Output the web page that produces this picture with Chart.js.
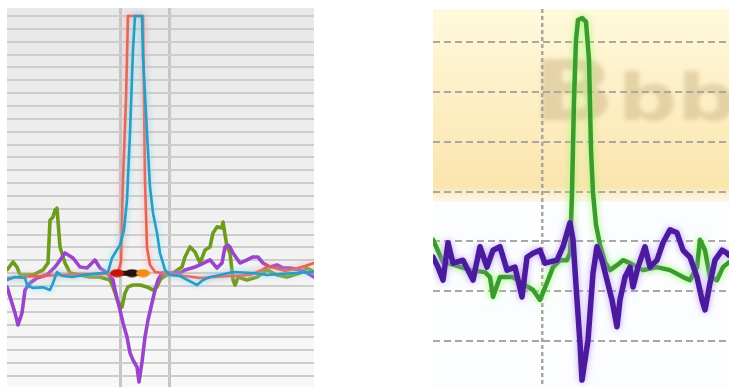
<!DOCTYPE html>
<html>
<head>
<meta charset="utf-8">
<script src="https://cdn.jsdelivr.net/npm/chart.js@4"></script>
<style>
  html, body { margin: 0; padding: 0; background: #ffffff; overflow: hidden; width: 729px; height: 387px; }
  canvas { position: absolute; }
  #leftPanel { left: 7px; top: 8px; }
  #rightPanel { left: 433px; top: 9px; }
</style>
</head>
<body>
<canvas id="leftPanel" width="307" height="379"></canvas>
<canvas id="rightPanel" width="296" height="378"></canvas>
<script>
// ---- Left panel: four traces around an event (time in samples, amplitude in grid units) ----
const redTime   = [0, 13, 33, 53, 73, 93, 105, 111, 114, 116, 119, 121, 136, 138, 140, 143, 148, 163, 178, 193, 208, 223, 243, 255, 261, 268, 278, 288, 298, 307];
const redValue  = [-0.37, -0.3, -0.22, -0.14, -0.06, -0.06, -0.06, 0.09, 0.87, 7.2, 13.5, 20, 20, 7.2, 2.0, 0.64, 0.09, -0.06, -0.22, -0.37, -0.3, -0.22, -0.14, 0.25, 0.56, 0.4, 0.17, 0.33, 0.56, 0.79];

const blueTime  = [0, 8, 18, 20, 26, 36, 43, 46, 50, 55, 65, 80, 95, 101, 105, 108, 113, 117, 120, 123, 126, 128, 135, 136, 140, 143, 146, 150, 153, 158, 163, 173, 186, 190, 196, 203, 213, 226, 246, 260, 273, 288, 307];
const blueValue = [-0.53, -0.3, -0.37, -0.92, -1.15, -1.1, -1.31, -0.76, 0.09, -0.2, -0.3, -0.1, 0.02, 0.09, 1.18, 1.57, 2.19, 3.36, 5.7, 10.9, 17.4, 20, 20, 16.8, 10.9, 6.7, 4.68, 3.13, 1.57, 0.25, -0.14, -0.22, -0.76, -0.92, -0.53, -0.3, -0.14, 0.09, 0.02, -0.14, -0.06, 0.02, 0.09];

const greenTime  = [0, 6, 10, 13, 26, 36, 41, 43, 46, 48, 50, 53, 58, 63, 73, 83, 93, 103, 106, 108, 111, 115, 118, 121, 126, 133, 140, 146, 150, 153, 156, 160, 166, 175, 178, 183, 188, 193, 198, 203, 206, 210, 215, 216, 220, 223, 226, 228, 231, 240, 250, 260, 270, 280, 293, 300, 307];
const greenValue = [0.25, 0.87, 0.48, -0.14, -0.14, 0.25, 0.79, 4.12, 4.36, 4.9, 5.05, 2.04, 0.79, 0.02, -0.14, -0.3, -0.3, -0.53, -1.07, -1.54, -2.24, -2.63, -1.54, -1.07, -0.92, -0.92, -1.07, -1.31, -1.07, -0.53, -0.3, -0.14, 0.02, 0.48, 1.26, 2.04, 1.65, 0.79, 1.8, 2.04, 3.13, 3.6, 3.52, 3.98, 2.04, 1.57, -0.53, -0.92, -0.3, -0.53, -0.3, 0.25, -0.14, -0.3, 0.02, 0.4, 0.09];

const purpleTime  = [0, 1, 8, 11, 15, 18, 23, 30, 40, 48, 51, 58, 66, 73, 80, 88, 93, 100, 106, 108, 113, 116, 120, 123, 126, 130, 132, 135, 138, 141, 145, 148, 151, 155, 173, 178, 188, 193, 203, 210, 215, 218, 221, 223, 226, 233, 240, 246, 251, 256, 263, 270, 276, 283, 293, 300, 307];
const purpleValue = [-1.07, -1.31, -3.09, -4.03, -3.09, -1.31, -0.76, -0.37, -0.14, 0.48, 0.79, 1.57, 1.18, 0.48, 0.4, 1.03, 0.4, 0.02, -0.53, -1.31, -2.86, -3.87, -4.96, -6.2, -6.75, -7.3, -8.46, -6.9, -4.96, -3.64, -2.32, -1.31, -0.53, 0.02, 0.02, 0.25, 0.48, 0.64, 1.03, 0.4, 0.79, 2.04, 2.19, 2.04, 1.57, 0.79, 1.03, 1.26, 1.26, 0.79, 0.48, 0.64, 0.4, 0.4, 0.25, 0.02, -0.3];

// event markers on the baseline
const markerTime  = [110, 125, 136];
const markerValue = [0, 0, 0];
const markerColors = ['#c4160e', '#24110a', '#f08d12'];

// cursor positions and grid levels
const leftCursors = [113, 162];
const leftGridLevels = [-8, -7, -6, -5, -4, -3, -2, -1, 0, 1, 2, 3, 4, 5, 6, 7, 8, 9, 10, 11, 12, 13, 14, 15, 16, 17, 18, 19, 20];

// ---- Right panel: two traces ----
const rPurpleTime  = [0, 5, 10, 15, 20, 30, 40, 47, 54, 60, 67, 74, 82, 89, 94, 100, 107, 112, 124, 130, 137, 140, 144, 147, 149, 155, 160, 164, 169, 174, 179, 184, 187, 192, 197, 200, 205, 212, 217, 224, 230, 237, 244, 250, 257, 264, 269, 272, 277, 282, 289, 294, 296];
const rPurpleValue = [0.68, 0.48, 0.22, 0.97, 0.56, 0.62, 0.22, 0.89, 0.48, 0.82, 0.89, 0.42, 0.48, -0.12, 0.68, 0.76, 0.82, 0.56, 0.62, 0.89, 1.37, 1.03, -0.18, -1.05, -1.79, -0.99, 0.36, 0.89, 0.62, 0.22, -0.18, -0.72, -0.18, 0.28, 0.48, 0.08, 0.48, 0.89, 0.48, 0.62, 0.97, 1.23, 1.17, 0.82, 0.68, 0.28, -0.18, -0.38, 0.16, 0.62, 0.82, 0.76, 0.72];

const rGreenTime  = [0, 10, 22, 37, 52, 57, 60, 67, 80, 92, 100, 107, 115, 120, 127, 134, 137, 139, 141, 143, 145, 149, 153, 156, 158, 160, 163, 167, 172, 177, 184, 190, 197, 210, 224, 237, 250, 257, 264, 267, 272, 277, 284, 290, 296];
const rGreenValue = [1.03, 0.58, 0.52, 0.42, 0.38, 0.28, -0.12, 0.28, 0.28, 0.12, 0.02, -0.18, 0.22, 0.48, 0.62, 0.62, 0.76, 1.97, 3.84, 5.05, 5.45, 5.49, 5.41, 4.65, 2.84, 1.97, 1.33, 0.93, 0.58, 0.42, 0.52, 0.62, 0.56, 0.42, 0.48, 0.42, 0.28, 0.22, 0.48, 1.03, 0.82, 0.28, 0.22, 0.48, 0.58];

const rightCursors = [109];
const rightGridLevels = [-1, 0, 1, 2, 3, 4, 5];
const watermarkText = ['B', 'bb'];

// ---- helpers ----
const toPoints = (xs, ys) => xs.map((x, i) => ({ x: x, y: ys[i] }));

function ellipseMarker(color) {
  const c = document.createElement('canvas');
  c.width = 15; c.height = 9;
  const g = c.getContext('2d');
  g.fillStyle = color;
  g.beginPath();
  g.ellipse(7.5, 4.5, 7, 4, 0, 0, Math.PI * 2);
  g.fill();
  return c;
}

// soft halo behind selected traces
const glowPlugin = {
  id: 'glow',
  beforeDatasetDraw(chart, args) {
    const ds = chart.data.datasets[args.index];
    if (ds.glowColor) {
      chart.ctx.save();
      chart.ctx.shadowColor = ds.glowColor;
      chart.ctx.shadowBlur = ds.glowBlur || 6;
    }
  },
  afterDatasetDraw(chart, args) {
    const ds = chart.data.datasets[args.index];
    if (ds.glowColor) chart.ctx.restore();
  }
};

const leftBackground = {
  id: 'leftBackground',
  beforeDraw(chart) {
    const { ctx, chartArea: a } = chart;
    const g = ctx.createLinearGradient(0, a.top, 0, a.bottom);
    g.addColorStop(0, '#e8e8e8');
    g.addColorStop(1, '#f8f8f8');
    ctx.save();
    ctx.fillStyle = g;
    ctx.fillRect(a.left, a.top, a.right - a.left, a.bottom - a.top);
    ctx.restore();
  }
};

const rightBackground = {
  id: 'rightBackground',
  beforeDraw(chart) {
    const { ctx, chartArea: a, scales } = chart;
    const band = scales.y.getPixelForValue(1.8);
    ctx.save();
    ctx.fillStyle = '#fbfdfe';
    ctx.fillRect(a.left, a.top, a.right - a.left, a.bottom - a.top);
    const g = ctx.createLinearGradient(0, a.top, 0, band);
    g.addColorStop(0, '#fff9dd');
    g.addColorStop(0.92, '#fbe5ad');
    g.addColorStop(1, 'rgba(251,240,210,0.6)');
    ctx.fillStyle = g;
    ctx.fillRect(a.left, a.top, a.right - a.left, band - a.top);
    // faded watermark lettering
    ctx.filter = 'blur(2px)';
    ctx.fillStyle = 'rgba(190,160,110,0.38)';
    ctx.textBaseline = 'alphabetic';
    ctx.save();
    ctx.translate(a.left + 99, a.top + 111);
    ctx.scale(1.3, 1);
    ctx.font = 'bold 84px "DejaVu Sans"';
    ctx.fillText(watermarkText[0], 0, 0);
    ctx.font = 'bold 64px "DejaVu Sans"';
    ctx.fillText(watermarkText[1], 66, 0);
    ctx.restore();
    ctx.restore();
  }
};

function baseScales(xMax, yMin, yMax, cursors, levels, xGrid, yGrid, dash) {
  return {
    x: {
      type: 'linear', min: 0, max: xMax,
      ticks: { display: false },
      border: { display: false, dash: dash ? [4, 3] : [] },
      grid: Object.assign({ drawTicks: false }, xGrid),
      afterBuildTicks: (axis) => { axis.ticks = cursors.map(v => ({ value: v })); }
    },
    y: {
      type: 'linear', min: yMin, max: yMax,
      ticks: { display: false },
      border: { display: false, dash: dash ? [7, 4] : [] },
      grid: Object.assign({ drawTicks: false }, yGrid),
      afterBuildTicks: (axis) => { axis.ticks = levels.map(v => ({ value: v })); }
    }
  };
}

const common = {
  responsive: false,
  animation: false,
  devicePixelRatio: 1,
  layout: { padding: 0, autoPadding: false },
  plugins: { legend: { display: false }, tooltip: { enabled: false } },
  elements: { point: { radius: 0 }, line: { tension: 0, borderJoinStyle: 'round', borderCapStyle: 'round' } }
};

new Chart(document.getElementById('leftPanel'), {
  type: 'line',
  data: {
    datasets: [
      {
        label: 'markers', data: toPoints(markerTime, markerValue),
        borderColor: '#2a120a', borderWidth: 5,
        pointRadius: 6, pointStyle: markerColors.map(ellipseMarker)
      },
      { label: 'blue', data: toPoints(blueTime, blueValue), borderColor: '#2a9bc2', borderWidth: 2.6, glowColor: 'rgba(120,225,255,0.95)', glowBlur: 6 },
      { label: 'red', data: toPoints(redTime, redValue), borderColor: '#e8604e', borderWidth: 2.6, glowColor: 'rgba(255,150,150,0.9)', glowBlur: 6 },
      { label: 'purple', data: toPoints(purpleTime, purpleValue), borderColor: '#9a44cc', borderWidth: 3.6 },
      { label: 'green', data: toPoints(greenTime, greenValue), borderColor: '#6d9c1c', borderWidth: 3.6 }
    ]
  },
  options: Object.assign({}, common, {
    scales: baseScales(307, -8.85, 20.62, leftCursors, leftGridLevels,
      { color: '#c6c6c6', lineWidth: 3 },
      { color: '#cdcdcd', lineWidth: 2 }, false)
  }),
  plugins: [leftBackground, glowPlugin]
});

new Chart(document.getElementById('rightPanel'), {
  type: 'line',
  data: {
    datasets: [
      { label: 'purple', data: toPoints(rPurpleTime, rPurpleValue), borderColor: '#4a1b9c', borderWidth: 5.5, glowColor: 'rgba(185,140,255,0.85)', glowBlur: 6 },
      { label: 'green', data: toPoints(rGreenTime, rGreenValue), borderColor: '#3b9b2e', borderWidth: 4.5, glowColor: 'rgba(150,255,110,1)', glowBlur: 7 }
    ]
  },
  options: Object.assign({}, common, {
    scales: baseScales(296, -1.93, 5.67, rightCursors, rightGridLevels,
      { color: '#a7a7a0', lineWidth: 2.5 },
      { color: '#aaa9a0', lineWidth: 2 }, true)
  }),
  plugins: [rightBackground, glowPlugin]
});
</script>
</body>
</html>
